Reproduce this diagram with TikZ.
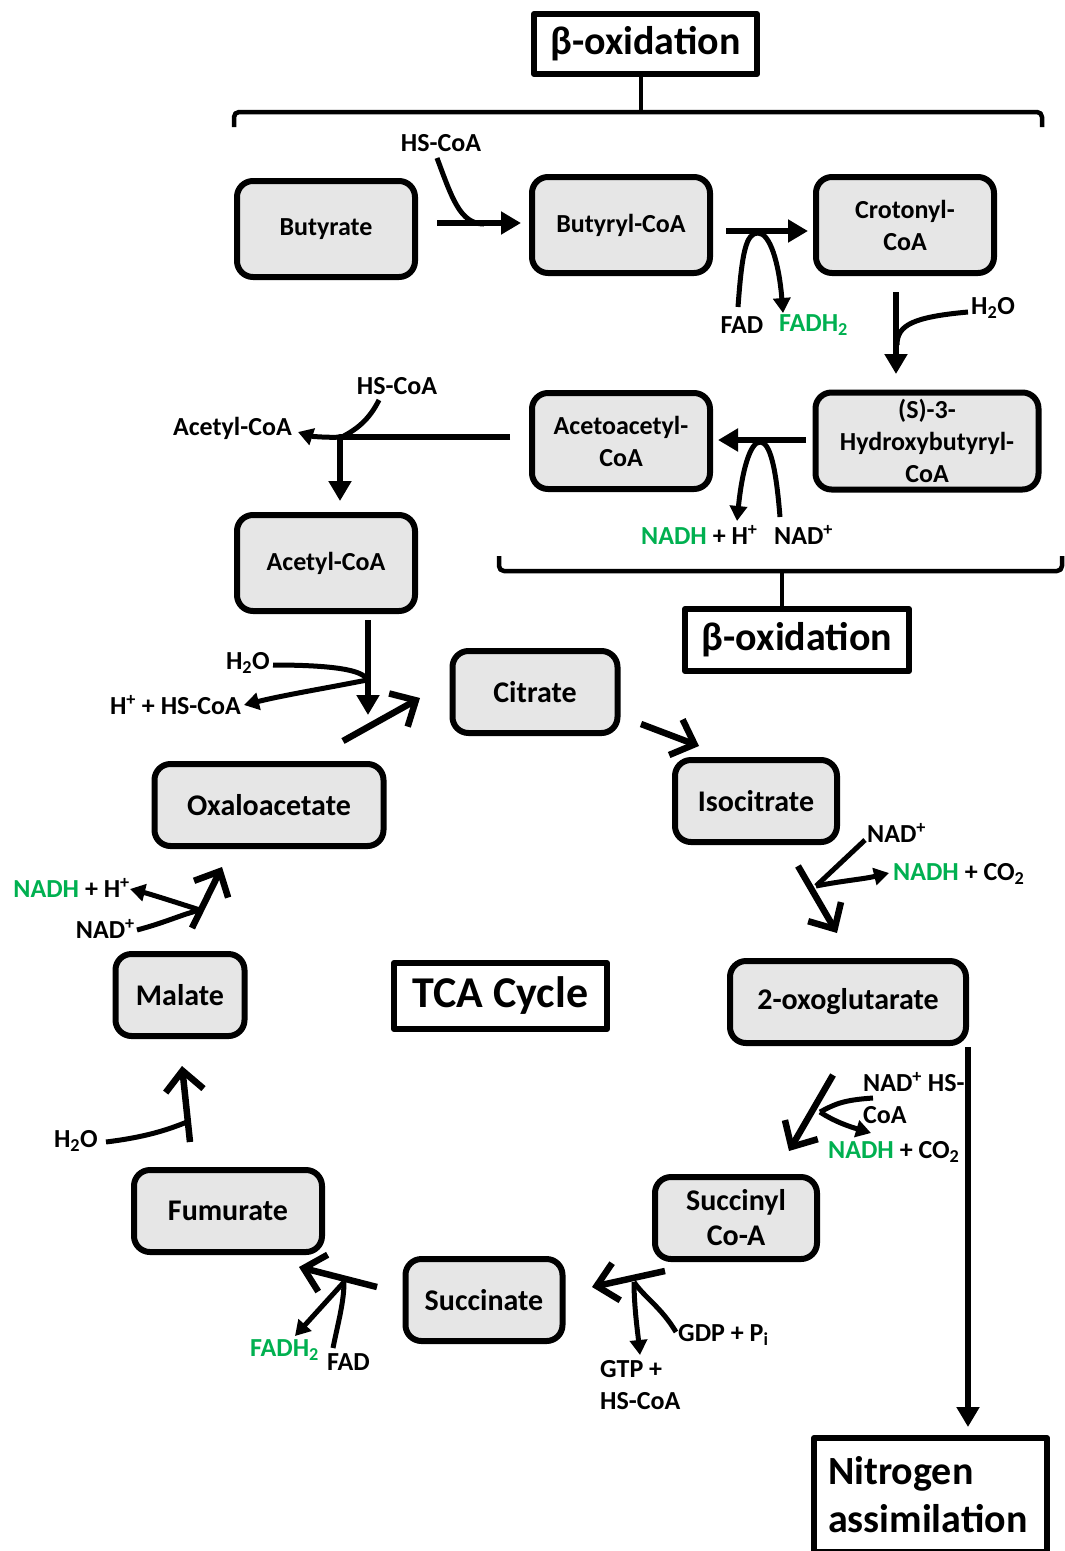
\documentclass[tikz,border=0pt]{standalone}
\usepackage{fontspec}
\setmainfont{Carlito}
\usepackage{tikz}
\usetikzlibrary{arrows.meta}
\definecolor{boxgray}{HTML}{E6E6E6}
\definecolor{nadgreen}{HTML}{00B050}
\newcommand{\rxnfont}{\fontsize{26}{32}\selectfont\bfseries}
\newcommand{\tcafont}{\fontsize{30}{35}\selectfont\bfseries}
\newcommand{\headfont}{\fontsize{40}{48}\selectfont\bfseries}
\newcommand{\gr}[1]{\textcolor{nadgreen}{#1}}

\begin{document}
\begin{tikzpicture}[x=1pt,y=-1pt,>={Triangle[length=20pt,width=22pt]},line join=round]
  \tikzstyle{met}=[draw,line width=6pt,rounded corners=16pt,fill=boxgray,inner sep=0pt,align=center,font=\rxnfont]
  \tikzstyle{betamet}=[met,minimum width=178pt,minimum height=96pt]
  \tikzstyle{tcamet}=[met,font=\tcafont,minimum height=82pt]
  \tikzstyle{headbox}=[draw,line width=6pt,fill=white,inner sep=0pt,font=\headfont]
  \tikzstyle{lbl}=[inner sep=0pt,font=\rxnfont]
  \tikzstyle{rxn}=[line width=6pt,->]
  \tikzstyle{cyc}=[line width=6.5pt,-{Straight Barb[length=20pt,width=38pt]}]
  \tikzstyle{cofac}=[line width=5pt]
  \tikzstyle{cofacout}=[cofac,-{Triangle[length=15pt,width=17pt]}]
  \tikzstyle{brace}=[line width=4.5pt,rounded corners=5pt]

  \useasboundingbox (0,0) rectangle (1065,1551);

  % beta-oxidation
  \node[betamet] (butyrate)    at (326,229) {Butyrate};
  \node[betamet] (butyryl)     at (621,225) {Butyryl-CoA};
  \node[betamet] (crotonyl)    at (905,225) {Crotonyl-\\CoA};
  \node[betamet,minimum width=223pt,minimum height=97pt] (hydroxy) at (927,441) {(S)-3-\\Hydroxybutyryl-\\CoA};
  \node[betamet] (acetoacetyl) at (621,441) {Acetoacetyl-\\CoA};
  \node[betamet] (acetyl)      at (326,563) {Acetyl-CoA};

  % TCA cycle
  \node[tcamet,minimum width=165pt] (citrate)    at (535,692)  {Citrate};
  \node[tcamet,minimum width=162pt] (isocitrate) at (756,801)  {Isocitrate};
  \node[tcamet,minimum width=236pt] (oxoglut)    at (848,1002) {2-oxoglutarate};
  \node[tcamet,minimum width=162pt] (succinyl)   at (736,1218) {Succinyl\\Co-A};
  \node[tcamet,minimum width=157pt] (succinate)  at (484,1300) {Succinate};
  \node[tcamet,minimum width=188pt] (fumurate)   at (228,1211) {Fumurate};
  \node[tcamet,minimum width=129pt] (malate)     at (180,995)  {Malate};
  \node[tcamet,minimum width=229pt] (oxalo)      at (269,805)  {Oxaloacetate};

  % headings
  \node[headbox,minimum width=223pt,minimum height=60pt] (betatop) at (645.5,44) {β-oxidation};
  \node[headbox,minimum width=224pt,minimum height=62pt] (betamid) at (797,640) {β-oxidation};
  \node[headbox,minimum width=213pt,minimum height=66pt,font=\fontsize{44}{50}\selectfont\bfseries] (tca) at (500.5,996) {TCA Cycle};
  \node[headbox,minimum width=233pt,minimum height=114pt,text width=205pt,align=left] (nitro) at (930.5,1495) {Nitrogen\\assimilation};

  % brackets
  \coordinate (topl) at (234,127);
  \coordinate (topm) at (641,112);
  \coordinate (topr) at (1042,127);
  \draw[brace] (topl) |- (topm) -| (topr);
  \draw[brace] (topm) -- (topm |- betatop.south);
  \coordinate (midl) at (499,556);
  \coordinate (midm) at (782,571);
  \coordinate (midr) at (1062,556);
  \draw[brace] (midl) |- (midm) -| (midr);
  \draw[brace] (midm) -- (midm |- betamid.north);

  % cofactor labels
  \node[lbl] (hs1) at (441,143) {HS-CoA};
  \node[lbl] (fad2) at (742,325) {FAD};
  \node[lbl,anchor=west] (fadh2) at (779,325) {\gr{FADH\textsubscript{2}}};
  \node[lbl] (h2o3) at (993,308) {H\textsubscript{2}O};
  \node[lbl,anchor=west] (nadh4) at (641,535) {\gr{NADH} + H\textsuperscript{+}};
  \node[lbl,anchor=west] (nad4) at (774,535) {NAD\textsuperscript{+}};
  \node[lbl] (hs5) at (397,386) {HS-CoA};
  \node[lbl,anchor=east] (acetyl5) at (292,428) {Acetyl-CoA};
  \node[lbl,anchor=east] (h2o6) at (270,663) {H\textsubscript{2}O};
  \node[lbl,anchor=east] (hp6) at (241,705) {H\textsuperscript{+} + HS-CoA};
  \node[lbl,anchor=west] (nad7) at (867,833) {NAD\textsuperscript{+}};
  \node[lbl,anchor=west] (nadh7) at (893,874) {\gr{NADH} + CO\textsubscript{2}};
  \node[lbl,anchor=west,align=left] (nad8) at (863,1098) {NAD\textsuperscript{+} HS-\\CoA};
  \node[lbl,anchor=west] (nadh8) at (828,1152) {\gr{NADH} + CO\textsubscript{2}};
  \node[lbl,anchor=west] (gdp9) at (678,1335) {GDP + P\textsubscript{i}};
  \node[lbl,anchor=west,align=left] (gtp9) at (600,1385) {GTP +\\HS-CoA};
  \node[lbl,anchor=west] (fadh10) at (250,1350) {\gr{FADH\textsubscript{2}}};
  \node[lbl,anchor=west] (fad10) at (327,1362) {FAD};
  \node[lbl,anchor=east] (h2o11) at (98,1141) {H\textsubscript{2}O};
  \node[lbl,anchor=east] (nadh12) at (130,888) {\gr{NADH} + H\textsuperscript{+}};
  \node[lbl,anchor=east] (nad12) at (135,929) {NAD\textsuperscript{+}};

  % Butyrate -> Butyryl-CoA
  \coordinate (r1s) at (437,223);
  \coordinate (r1e) at (521,223);
  \coordinate (r1j) at (484,224);
  \coordinate (hs1c) at (437,158);
  \draw[rxn] (r1s) -- (r1e);
  \draw[cofac] (hs1c) .. controls +(15,40) and +(-24,0) .. (r1j);

  % Butyryl-CoA -> Crotonyl-CoA
  \coordinate (r2s) at (726,231);
  \coordinate (r2e) at (808,231);
  \coordinate (r2j) at (758,233);
  \coordinate (fad2c) at (738,307);
  \coordinate (fadh2c) at (783,313);
  \draw[rxn] (r2s) -- (r2e);
  \draw[cofacout] (fad2c) .. controls +(4,-55) and +(-12,0) .. (r2j) .. controls +(12,0) and +(-4,-50) .. (fadh2c);

  % Crotonyl-CoA -> Hydroxybutyryl-CoA
  \coordinate (r3s) at (896,292);
  \coordinate (r3e) at (896,374);
  \coordinate (r3j) at (897,345);
  \coordinate (h2o3c) at (968,312);
  \draw[rxn] (r3s) -- (r3e);
  \draw[cofac] (h2o3c) .. controls +(-55,5) and +(0,-20) .. (r3j);

  % Hydroxybutyryl-CoA -> Acetoacetyl-CoA
  \coordinate (r4s) at (806,440);
  \coordinate (r4e) at (718,440);
  \coordinate (r4j) at (760,442);
  \coordinate (nad4c) at (780,517);
  \coordinate (nadh4c) at (737,521);
  \draw[rxn] (r4s) -- (r4e);
  \draw[cofacout] (nad4c) .. controls +(-4,-50) and +(10,0) .. (r4j) .. controls +(-10,0) and +(5,-50) .. (nadh4c);

  % Acetoacetyl-CoA -> Acetyl-CoA
  \coordinate (r5s) at (510,437);
  \coordinate (r5j) at (342,437);
  \coordinate (r5e) at (340,501);
  \coordinate (r5t) at (298,432);
  \coordinate (hs5c) at (379,400);
  \draw[rxn] (r5s) -| (r5e);
  \draw[cofacout] (r5j) .. controls +(-15,1) and +(12,4) .. (r5t);
  \draw[cofac] (hs5c) .. controls +(-10,20) and +(15,-8) .. (r5j);

  % Acetyl-CoA -> TCA
  \coordinate (r6s) at (368,620);
  \coordinate (r6e) at (368,715);
  \coordinate (r6j) at (367,680);
  \coordinate (h2o6c) at (273,665);
  \coordinate (hp6c) at (244,705);
  \draw[rxn] (r6s) -- (r6e);
  \draw[cofac] (h2o6c) .. controls +(60,0) and +(-3,-10) .. (r6j);
  \draw[cofacout] (r6j) .. controls +(-40,8) and +(40,-10) .. (hp6c);

  % TCA cycle steps
  \coordinate (t1s) at (343,741);
  \coordinate (t1e) at (420,698);
  \draw[cyc] (t1s) -- (t1e);

  \coordinate (t2s) at (641,724);
  \coordinate (t2e) at (699,746);
  \draw[cyc] (t2s) -- (t2e);

  \coordinate (t3s) at (798,866);
  \coordinate (t3e) at (837,933);
  \coordinate (t3j) at (816,886);
  \coordinate (nad7c) at (865,840);
  \coordinate (nadh7c) at (889,873);
  \draw[cyc] (t3s) -- (t3e);
  \draw[cofac] (nad7c) -- (t3j);
  \draw[cofacout] (t3j) .. controls +(25,-5) and +(-25,6) .. (nadh7c);

  \coordinate (t4s) at (833,1075);
  \coordinate (t4e) at (789,1151);
  \coordinate (t4j) at (820,1112);
  \coordinate (nad8c) at (873,1098);
  \coordinate (nadh8c) at (871,1133);
  \draw[cyc] (t4s) -- (t4e);
  \draw[cofac] (nad8c) .. controls +(-30,2) and +(15,-8) .. (t4j);
  \draw[cofacout] (t4j) .. controls +(15,10) and +(-20,-6) .. (nadh8c);

  \coordinate (t5s) at (665,1271);
  \coordinate (t5e) at (592,1287);
  \coordinate (t5j) at (634,1282);
  \coordinate (gdp9c) at (676,1332);
  \coordinate (gtp9c) at (640,1355);
  \draw[cyc] (t5s) -- (t5e);
  \draw[cofac] (gdp9c) .. controls +(-15,-25) and +(10,15) .. (t5j);
  \draw[cofacout] (t5j) .. controls +(0,25) and +(-2,-20) .. (gtp9c);

  \coordinate (t6s) at (377,1287);
  \coordinate (t6e) at (299,1267);
  \coordinate (t6j) at (344,1282);
  \coordinate (fad10c) at (333,1348);
  \coordinate (fadh10c) at (295,1336);
  \draw[cyc] (t6s) -- (t6e);
  \draw[cofac] (fad10c) .. controls +(5,-25) and +(0,20) .. (t6j);
  \draw[cofacout] (t6j) -- (fadh10c);

  \coordinate (t7s) at (190,1142);
  \coordinate (t7e) at (182,1066);
  \coordinate (t7j) at (187,1122);
  \coordinate (h2o11c) at (106,1142);
  \draw[cyc] (t7s) -- (t7e);
  \draw[cofac] (h2o11c) .. controls +(40,-5) and +(-20,8) .. (t7j);

  \coordinate (t8s) at (192,928);
  \coordinate (t8e) at (222,867);
  \coordinate (t8j) at (200,910);
  \coordinate (nad12c) at (137,930);
  \coordinate (nadh12c) at (130,889);
  \draw[cyc] (t8s) -- (t8e);
  \draw[cofac] (nad12c) .. controls +(30,-8) and +(-20,5) .. (t8j);
  \draw[cofacout] (t8j) .. controls +(-25,-8) and +(20,5) .. (nadh12c);

  % 2-oxoglutarate -> nitrogen assimilation
  \coordinate (n1s) at (968,1047);
  \draw[rxn,shorten >=8pt] (n1s) -- (n1s |- nitro.north);
\end{tikzpicture}
\end{document}
